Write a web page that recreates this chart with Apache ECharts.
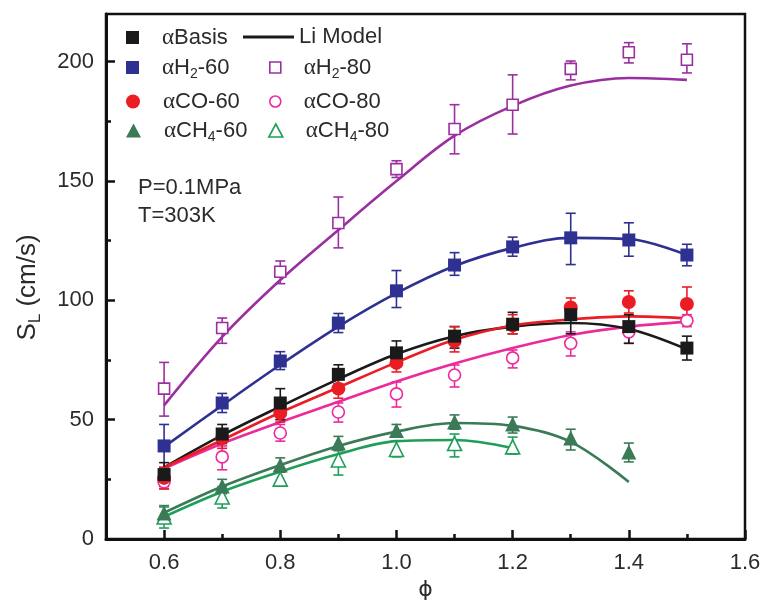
<!DOCTYPE html>
<html><head><meta charset="utf-8">
<script src="https://cdn.jsdelivr.net/npm/echarts@6/dist/echarts.min.js"></script>
<style>html,body{margin:0;padding:0;background:#fff}#c{width:763px;height:600px}</style>
</head><body><div id="c"></div>
<script>
// ---- data ----
const phi = [0.6,0.7,0.8,0.9,1.0,1.1,1.2,1.3,1.4,1.5];
const phiCH460 = [0.6,0.7,0.8,0.9,1.0,1.1,1.2,1.3,1.4];
const phiCH480 = [0.6,0.7,0.8,0.9,1.0,1.1,1.2];

const basis = [27,44,57,69,78,85,90,94,89,80];
const basisLo = [22,40,50,65,73,80,86,86,82,75];
const basisHi = [32,48,63,73,83,89,95,98,94,85];

const h2_60 = [39,57,74.6,90.5,104,114.8,122.4,126.2,125.3,119];
const h2_60Lo = [30,53,71,86.5,97,110.5,118.5,115,118.5,114.5];
const h2_60Hi = [48,61,78.5,94.5,112.5,120,126.5,136.5,132.5,123.5];

const h2_80 = [63,88.4,112,132.4,155,171.8,182,197,204,200.8];
const h2_80Lo = [51.5,82,107,122,151.5,161.4,169.7,192.4,199.5,195.3];
const h2_80Hi = [74,92.6,116.5,143.3,158.5,182,194.5,200.3,208,207.5];

const co_60 = [25.6,42.3,52.8,63,73.8,83,89.5,97,99.3,98.5];
const co_60Lo = [21,38,49,59,70,78.4,86,93,94.7,92];
const co_60Hi = [30,46,57,67,78,89,94,101,104,105.6];

const co_80 = [24,34.4,44.4,53.2,60.8,68.7,75.9,82,86.8,91.5];
const co_80Lo = [21,29,41,49,55.3,63.7,71.7,76.7,82,89];
const co_80Hi = [28,39,48,57,65.8,72.9,79.2,86.8,90.5,94];

const ch4_60 = [10.9,22.2,31,40.2,45.5,49,48.2,42.3,36.5];
const ch4_60Lo = [7,19,28,37,43,46,44.4,37.3,32.3];
const ch4_60Hi = [14,25,34,43,48,52,51.1,46,40.2];

const ch4_80 = [9.2,17.6,25.1,33.1,37.5,40,38.6];
const ch4_80Lo = [4.6,13,22.2,26.8,34.4,34.4,35.6];
const ch4_80Hi = [13.4,22,28,38,41,44,42.7];

// Li model fits
const fitBasis = [30,43.5,55.5,67,77.5,85,89,90.5,88,79.5];
const fitH2_60 = [38.6,56,73,89,103,114.4,122,126.2,125.7,119];
const fitH2_80 = [56,84.7,108.5,129.5,150,169,181.5,190,193.2,192.4];
const fitCO_60 = [30,41.5,53,63.5,74,83.5,89.5,92,93.3,92.5];
const fitCO_80 = [29.5,40,49,57.5,66,73.5,80,85.5,89,91];
const fitCH4_60 = [11,22,31,39,45,48.6,47.4,40.7,23.9];
const fitCH4_80 = [9.3,19.8,28.2,35.6,41,41.5,38.1];

const xMajor = [0.6,0.8,1.0,1.2,1.4,1.6];
const xMinor = [0.7,0.9,1.1,1.3,1.5];
const yMajor = [0,50,100,150,200];
const yMinor = [25,75,125,175];

// ---- build ----
const C = {
  basis:'#1a1a1a', h260:'#2e3192', h280:'#9b2fa0', co60:'#ec1c24',
  co80:'#ec2a9c', ch460:'#3b7a57', ch480:'#1f9e5a'
};
const TXT = '#2b2b2b';
const zip = (xs, ys) => xs.map((x,i)=>[x, ys[i]]);
const zip3 = (xs, lo, hi) => xs.map((x,i)=>[x, lo[i], hi[i]]);

function errSeries(xs, lo, hi, color){
  return {
    type:'custom', z:3, silent:true,
    data: zip3(xs, lo, hi),
    encode:{x:0, y:[1,2]},
    renderItem:(params, api)=>{
      const x = api.value(0);
      const a = api.coord([x, api.value(1)]);
      const b = api.coord([x, api.value(2)]);
      const w = 5;
      const st = {stroke:color, lineWidth:1.6};
      return {type:'group', children:[
        {type:'line', shape:{x1:a[0],y1:a[1],x2:b[0],y2:b[1]}, style:st},
        {type:'line', shape:{x1:a[0]-w,y1:a[1],x2:a[0]+w,y2:a[1]}, style:st},
        {type:'line', shape:{x1:b[0]-w,y1:b[1],x2:b[0]+w,y2:b[1]}, style:st}
      ]};
    }
  };
}
function fitSeries(name, xs, ys, color){
  return {name, type:'line', z:2, smooth:0.35, symbol:'none', data: zip(xs, ys),
    lineStyle:{color, width:2.6}, itemStyle:{color}};
}
function ptSeries(name, xs, ys, symbol, size, color, hollow){
  return {name, type:'scatter', z:4, symbol, symbolSize:size, data: zip(xs, ys),
    itemStyle: hollow ? {color:'#fff', borderColor:color, borderWidth:1.6, opacity:1}
                      : {color, opacity:1}};
}

const series = [
  fitSeries('fit-h280', phi, fitH2_80, C.h280),
  fitSeries('fit-h260', phi, fitH2_60, C.h260),
  fitSeries('fit-co80', phi, fitCO_80, C.co80),
  fitSeries('Li Model', phi, fitBasis, C.basis),
  fitSeries('fit-co60', phi, fitCO_60, C.co60),
  fitSeries('fit-ch480', phiCH480, fitCH4_80, C.ch480),
  fitSeries('fit-ch460', phiCH460, fitCH4_60, C.ch460),
  errSeries(phi, h2_80Lo, h2_80Hi, C.h280),
  errSeries(phi, h2_60Lo, h2_60Hi, C.h260),
  errSeries(phi, co_80Lo, co_80Hi, C.co80),
  errSeries(phi, basisLo, basisHi, C.basis),
  errSeries(phi, co_60Lo, co_60Hi, C.co60),
  errSeries(phiCH480, ch4_80Lo, ch4_80Hi, C.ch480),
  errSeries(phiCH460, ch4_60Lo, ch4_60Hi, C.ch460),
  ptSeries('αH2-80', phi, h2_80, 'rect', 11, C.h280, true),
  ptSeries('αH2-60', phi, h2_60, 'rect', 13, C.h260, false),
  ptSeries('αCO-80', phi, co_80, 'circle', 12, C.co80, true),
  ptSeries('αCO-60', phi, co_60, 'circle', 14, C.co60, false),
  ptSeries('αBasis', phi, basis, 'rect', 13, C.basis, false),
  ptSeries('αCH4-80', phiCH480, ch4_80, 'triangle', 14, C.ch480, true),
  ptSeries('αCH4-60', phiCH460, ch4_60, 'triangle', 15, C.ch460, false)
];

const labelRich = {
  a:{fontFamily:'Liberation Serif', fontSize:23, color:TXT, padding:[0,0,0,18]},
  t:{fontFamily:'Liberation Sans', fontSize:22, color:TXT},
  s:{fontFamily:'Liberation Sans', fontSize:14, color:TXT, padding:[14,0,0,0]}
};
const legendText = {
  'αBasis':'{a|α}{t|Basis}',
  'αH2-60':'{a|α}{t|H}{s|2}{t|-60}',
  'αH2-80':'{a|α}{t|H}{s|2}{t|-80}',
  'αCO-60':'{a|α}{t|CO-60}',
  'αCO-80':'{a|α}{t|CO-80}',
  'αCH4-60':'{a|α}{t|CH}{s|4}{t|-60}',
  'αCH4-80':'{a|α}{t|CH}{s|4}{t|-80}',
  'Li Model':'{t|Li Model}'
};
function lg(name, left, top, w, h, icon, style){
  const d = {name};
  if (icon) d.icon = icon;
  if (style) d.itemStyle = style;
  return {data:[d], left, top, itemWidth:w, itemHeight:h, padding:0, selectedMode:false,
    formatter: n => legendText[n], textStyle:{rich:labelRich}};
}
const legend = [
  lg('αBasis', 126, 26, 13, 13, 'rect', {color:C.basis}),
  lg('αH2-60', 126, 56, 13, 13, 'rect', {color:C.h260}),
  lg('αCO-60', 126, 90, 14, 14, 'circle', {color:C.co60}),
  lg('αCH4-60', 126, 119, 15, 14, 'triangle', {color:C.ch460}),
  lg('Li Model', 243, 26, 51, 3, 'rect', {color:C.basis}),
  lg('αH2-80', 269, 56, 11, 11, 'rect', {color:'#fff', borderColor:C.h280, borderWidth:1.6}),
  lg('αCO-80', 269, 90, 11, 11, 'circle', {color:'#fff', borderColor:C.co80, borderWidth:1.6}),
  lg('αCH4-80', 268, 119, 14, 13, 'triangle', {color:'#fff', borderColor:C.ch480, borderWidth:1.6})
];

const axisLine = {show:true, onZero:false, lineStyle:{color:'#111', width:3}};
const option = {
  animation:false,
  backgroundColor:'#fff',
  grid:{left:106, right:18, top:14, bottom:61, containLabel:false, outerBoundsMode:'none',
        show:true, borderColor:'#111', borderWidth:2.5, backgroundColor:'transparent'},
  legend,
  xAxis:[
    {type:'value', min:0.5, max:1.6, position:'bottom', axisLine,
     axisTick:{inside:true, length:9, customValues:xMajor, lineStyle:{color:'#111', width:2.5}},
     axisLabel:{customValues:xMajor, formatter:v=>v.toFixed(1), fontSize:22, color:TXT, margin:13, fontFamily:'Liberation Sans'},
     splitLine:{show:false},
     name:'ϕ', nameLocation:'middle', nameGap:40,
     nameTextStyle:{fontSize:22, color:TXT, fontFamily:'DejaVu Sans'}},
    {type:'value', min:0.5, max:1.6, position:'bottom', axisLine:{show:false},
     axisTick:{inside:true, length:5, customValues:xMinor, lineStyle:{color:'#111', width:2.5}},
     axisLabel:{show:false}, splitLine:{show:false}}
  ],
  yAxis:[
    {type:'value', min:0, max:220, position:'left', axisLine,
     axisTick:{inside:true, length:9, customValues:yMajor, lineStyle:{color:'#111', width:2.5}},
     axisLabel:{customValues:yMajor, fontSize:22, color:TXT, margin:12, fontFamily:'Liberation Sans'},
     splitLine:{show:false},
     name:'{t|S}{s|L}{t| (cm/s)}', nameLocation:'middle', nameGap:62, nameRotate:90,
     nameTextStyle:{padding:[0,22,0,0], rich:{
       t:{fontSize:26, color:TXT, fontFamily:'Liberation Sans'},
       s:{fontSize:17, color:TXT, fontFamily:'Liberation Sans', padding:[16,0,0,0]}
     }}},
    {type:'value', min:0, max:220, position:'left', axisLine:{show:false},
     axisTick:{inside:true, length:5, customValues:yMinor, lineStyle:{color:'#111', width:2.5}},
     axisLabel:{show:false}, splitLine:{show:false}}
  ],
  graphic:[
    {type:'text', left:138, top:177, style:{text:'P=0.1MPa', fontSize:22, fill:TXT, fontFamily:'Liberation Sans'}},
    {type:'text', left:138, top:205, style:{text:'T=303K', fontSize:22, fill:TXT, fontFamily:'Liberation Sans'}}
  ],
  series
};
const chart = echarts.init(document.getElementById('c'), null, {renderer:'canvas'});
chart.setOption(option);
</script></body></html>
